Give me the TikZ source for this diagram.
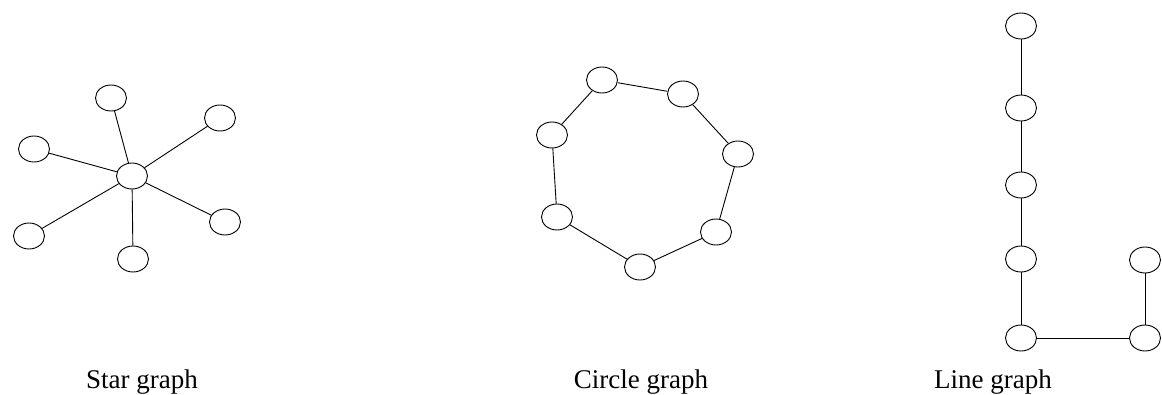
\documentclass[tikz,border=0pt]{standalone}
\usepackage{fontspec}
\setmainfont{Liberation Serif}
\usetikzlibrary{shapes.geometric}

\begin{document}
\begin{tikzpicture}[
		x=1pt, y=-1pt,
		vertex/.style={draw, ellipse, line width=0.9pt, minimum width=31pt,
			minimum height=26pt, inner sep=0pt},
		edge/.style={line width=0.9pt},
		caption/.style={anchor=base, font=\fontsize{27}{32}\selectfont}
	]
		\useasboundingbox (0,0) rectangle (1162,394);
		% star graph
		\node[vertex] (hub) at (132,176) {};
		\node[vertex] (s1) at (111,98) {};
		\node[vertex] (s2) at (220,118) {};
		\node[vertex] (s3) at (34,149) {};
		\node[vertex] (s4) at (225,222) {};
		\node[vertex] (s5) at (29,236) {};
		\node[vertex] (s6) at (133,259) {};
		\foreach \leaf in {s1,s2,s3,s4,s5,s6}
			\draw[edge] (hub) -- (\leaf);
		% circle graph
		\node[vertex] (c1) at (602,80) {};
		\node[vertex] (c2) at (683,94) {};
		\node[vertex] (c3) at (738,154) {};
		\node[vertex] (c4) at (716,232) {};
		\node[vertex] (c5) at (640,267) {};
		\node[vertex] (c6) at (557,217) {};
		\node[vertex] (c7) at (552,135) {};
		\draw[edge] (c1) -- (c2);
		\draw[edge] (c2) -- (c3);
		\draw[edge] (c3) -- (c4);
		\draw[edge] (c4) -- (c5);
		\draw[edge] (c5) -- (c6);
		\draw[edge] (c6) -- (c7);
		\draw[edge] (c7) -- (c1);
		% line graph
		\node[vertex] (l1) at (1021,26) {};
		\node[vertex] (l2) at (1021,108) {};
		\node[vertex] (l3) at (1021,185) {};
		\node[vertex] (l4) at (1021,259) {};
		\node[vertex] (l5) at (1021,338) {};
		\node[vertex] (l6) at (1145,338) {};
		\node[vertex] (l7) at (1145,260) {};
		\draw[edge] (l1) -- (l2);
		\draw[edge] (l2) -- (l3);
		\draw[edge] (l3) -- (l4);
		\draw[edge] (l4) -- (l5);
		\draw[edge] (l5) -- (l6);
		\draw[edge] (l6) -- (l7);
		% captions
		\node[caption] (starlabel) at (142,388) {Star graph};
		\node[caption] (circlelabel) at (641,388) {Circle graph};
		\node[caption] (linelabel) at (993,388) {Line graph};
	\end{tikzpicture}
\end{document}
